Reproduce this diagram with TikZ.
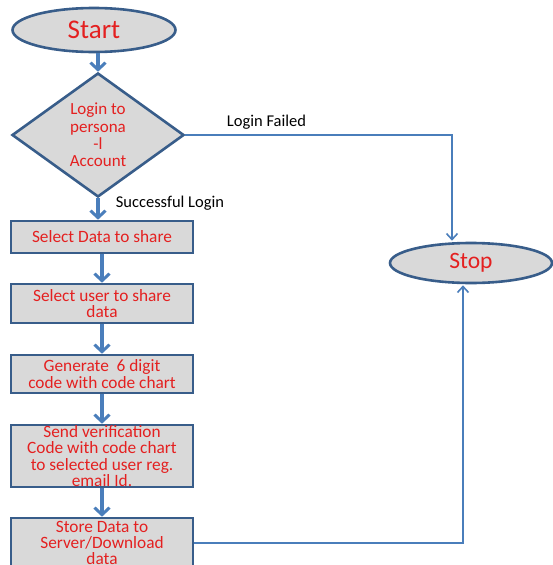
\documentclass[tikz,border=0pt]{standalone}
\usepackage{fontspec}
\setmainfont{Carlito}
\usetikzlibrary{shapes.geometric,arrows.meta}
\definecolor{bord}{HTML}{385D8A}
\definecolor{arr}{HTML}{4A7EBB}
\definecolor{shfill}{HTML}{D9D9D9}
\definecolor{txtred}{RGB}{228,32,32}
\tikzset{
  term/.style={ellipse, draw=bord, fill=shfill, line width=2.6pt, inner sep=0pt, text=txtred},
  decis/.style={diamond, draw=bord, fill=shfill, line width=2.6pt, inner sep=0pt, text=txtred, align=center, font=\fontsize{17}{17.3}\selectfont},
  procbox/.style={rectangle, draw=bord, fill=shfill, line width=2.6pt, inner sep=0pt, minimum width=182pt, text=txtred, align=center, font=\fontsize{17.3}{16.3}\selectfont},
  thick arrow/.style={draw=arr, line width=3.4pt, -{Straight Barb[length=7pt,width=15pt,line width=3pt]}},
  thin arrow/.style={draw=arr, line width=1.6pt, -{Straight Barb[length=6pt,width=11pt,line width=1.6pt]}},
  lbl/.style={font=\fontsize{16.5}{18}\selectfont, text=black, inner sep=0pt}
}
\begin{document}
\begin{tikzpicture}[x=1pt,y=-1pt]
\useasboundingbox[fill=white] (0,0) rectangle (553,565);
\begin{scope}
\clip (0,0) rectangle (553,565);
\node[term, minimum width=163pt, minimum height=44pt, font=\fontsize{27}{28}\selectfont] (S) at (94,30) {Start};
\node[decis, minimum width=172pt, minimum height=124pt] (D) at (98,135) {Login to\\persona\\-l\\Account};
\node[term, minimum width=162pt, minimum height=40pt, font=\fontsize{23.5}{25}\selectfont] (T) at (471,263) {Stop};
\node[procbox, minimum height=32pt] (B1) at (102,237) {Select Data to share};
\node[procbox, minimum height=39pt] (B2) at (102,303.5) {Select user to share\\data};
\node[procbox, minimum height=38pt] (B3) at (102,374) {Generate~~6 digit\\code with code chart};
\node[procbox, minimum height=62pt] (B4) at (102,456) {Send verification\\Code with code chart\\to selected user reg.\\email Id.};
\node[procbox, minimum height=50pt] (B5) at (102,543) {Store Data to\\Server/Download\\data};
\coordinate (fx) at (452,0);
\coordinate (sx) at (463,0);

\draw[thick arrow] (D.north |- S.south) -- (D.north);
\draw[thick arrow] (D.south) -- (D.south |- B1.north);
\draw[thick arrow] (B1.south) -- (B2.north);
\draw[thick arrow] (B2.south) -- (B3.north);
\draw[thick arrow] (B3.south) -- (B4.north);
\draw[thick arrow] (B4.south) -- (B5.north);
\draw[thin arrow] (D.east) -| ([yshift=1pt]fx |- T.north);
\draw[thin arrow] (B5.east) -| ([yshift=-1pt]sx |- T.south);

\node[lbl] (LF) at (266.5,122) {Login Failed};
\node[lbl] (LS) at (170,203) {Successful Login};
\end{scope}
\end{tikzpicture}
\end{document}
